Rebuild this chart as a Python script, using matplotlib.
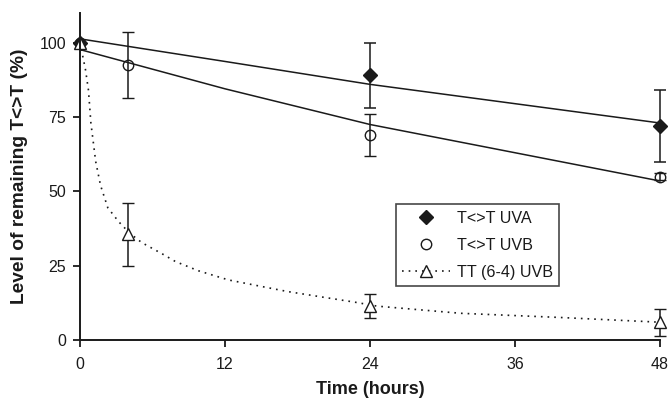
import matplotlib
matplotlib.use("Agg")
import matplotlib.pyplot as plt
from matplotlib.lines import Line2D

plt.rcParams['font.family'] = ['Liberation Sans', 'DejaVu Sans']

# measured data points
uva_t = [0, 24, 48]
uva_v = [100, 89, 72]
uva_err = [0, 11, 12]

uvb_t = [0, 4, 24, 48]
uvb_v = [100, 92.5, 69, 55]
uvb_err = [0, 11, 7, 1.2]

tt_t = [0, 4, 24, 48]
tt_v = [100, 35.5, 11.5, 6]
tt_err = [0, 10.6, 4, 4.5]

# fitted curves
uva_fit_t = [0, 12, 24, 36, 48]
uva_fit_v = [101.3, 93.7, 86.0, 79.5, 73.0]

uvb_fit_t = [0, 12, 24, 36, 48]
uvb_fit_v = [97.7, 84.5, 72.5, 63.0, 53.5]

tt_fit_t = [0, 0.2, 0.45, 0.7, 0.9, 1.3, 1.7, 2.3, 3.2, 4.1, 5.1, 6.8, 7.9, 9.8,
            12.3, 14.8, 17.2, 20.3, 22.8, 24.6, 31.5, 39.7, 48]
tt_fit_v = [100, 96, 91, 84, 73, 60, 52, 44.5, 39.8, 36, 32.8, 29, 26.4, 23.3,
            20.2, 18.2, 16.3, 14.3, 12.7, 11.4, 9.0, 7.6, 6.0]

labels = ['T<>T UVA', 'T<>T UVB', 'TT (6-4) UVB']
xticks = [0, 12, 24, 36, 48]
yticks = [0, 25, 50, 75, 100]

ink = '#1a1a1a'

fig = plt.figure(figsize=(6.69, 4.01), dpi=100)
ax = fig.add_axes([0.1196, 0.152, 0.8669, 0.8156])

ax.plot(uva_fit_t, uva_fit_v, color=ink, lw=1.1, clip_on=False)
ax.plot(uvb_fit_t, uvb_fit_v, color=ink, lw=1.1, clip_on=False)
ax.plot(tt_fit_t, tt_fit_v, color=ink, lw=1.2, linestyle=(0, (1, 3.0)), clip_on=False)

ekw = dict(ecolor=ink, elinewidth=1.1, capsize=4, capthick=1.1, linestyle='none', clip_on=False)
e1 = ax.errorbar(uva_t, uva_v, yerr=uva_err, marker='D', ms=7.2, mfc=ink, mec=ink, **ekw)
e2 = ax.errorbar(uvb_t, uvb_v, yerr=uvb_err, marker='o', ms=7.5, mfc='none', mec=ink, mew=1.0, **ekw)
e3 = ax.errorbar(tt_t, tt_v, yerr=tt_err, marker='^', ms=8.5, mfc='white', mec=ink, mew=1.0, **ekw)
for e in (e1, e2, e3):
    for c in e[1]:
        c.set_clip_on(False)
    for b in e[2]:
        b.set_clip_on(False)

ax.set_xlim(0, 48)
ax.set_ylim(0, 110)
ax.set_xticks(xticks)
ax.set_yticks(yticks)
ax.spines['top'].set_visible(False)
ax.spines['right'].set_visible(False)
for s in ('left', 'bottom'):
    ax.spines[s].set_linewidth(1.4)
    ax.spines[s].set_color(ink)
ax.tick_params(direction='out', length=5, width=1.3, color=ink, labelsize=11.5, pad=5, labelcolor=ink)
ax.tick_params(axis='x', pad=7)

ax.set_xlabel('Time (hours)', fontsize=13, fontweight='bold', color=ink, labelpad=7)
ax.set_ylabel('Level of remaining T<>T (%)', fontsize=13.8, fontweight='bold', color=ink, labelpad=8)

h1 = Line2D([], [], linestyle='none', marker='D', ms=7.2, mfc=ink, mec=ink)
h2 = Line2D([], [], linestyle='none', marker='o', ms=7.5, mfc='none', mec=ink, mew=1.0)
h3 = Line2D([], [], color=ink, lw=1.2, linestyle=(0, (1, 3.0)), marker='^', ms=8.5, mfc='white', mec=ink, mew=1.0)
leg = ax.legend([h1, h2, h3], labels, loc='upper left', bbox_to_anchor=(0.544, 0.415),
                borderaxespad=0, fontsize=11.6, frameon=True, fancybox=False,
                handlelength=3.0, handletextpad=0.4, labelspacing=0.75, borderpad=0.4)
leg.get_frame().set_edgecolor(ink)
leg.get_frame().set_linewidth(1.2)
for t in leg.get_texts():
    t.set_color(ink)

fig.savefig('out.png', dpi=100)
